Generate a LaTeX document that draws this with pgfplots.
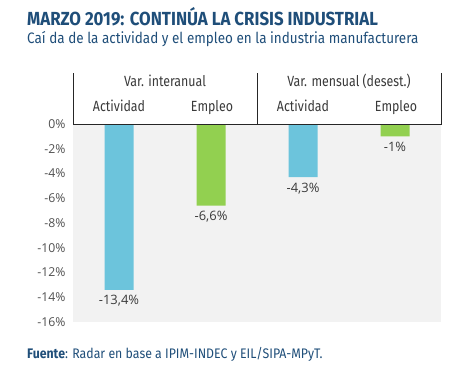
\documentclass[border=0pt]{standalone}
\usepackage{pgfplots}
\pgfplotsset{compat=1.18}
\usepackage{fontspec}
\setmainfont{Open Sans}
\newfontfamily\condfont[FakeStretch=0.89]{Fira Sans}
\newfontfamily\hdrfont[FakeStretch=0.84]{Fira Sans}
\definecolor{tblue}{HTML}{1F4E79}
\definecolor{barblue}{HTML}{6CC4DC}
\definecolor{bargreen}{HTML}{92D050}
\definecolor{txt}{HTML}{3A3A3A}
\definecolor{ticktxt}{HTML}{505050}
\definecolor{bggray}{HTML}{F2F2F2}
\begin{document}
\begin{tikzpicture}
\path[use as bounding box] (0,0) rectangle (466bp,-372bp);
\begin{axis}[
  at={(73bp,-322bp)}, anchor=south west,
  scale only axis, width=368bp, height=198bp,
  xmin=-0.5, xmax=3.5, ymin=-16, ymax=0,
  ytick={-16,-14,-12,-10,-8,-6,-4,-2,0},
  yticklabels={-16\%,-14\%,-12\%,-10\%,-8\%,-6\%,-4\%,-2\%,0\%},
  yticklabel style={font=\fontsize{12.3}{14}\selectfont, text=ticktxt, xshift=-4bp},
  xtick=\empty,
  axis line style={draw=none},
  major tick length=0pt,
  axis background/.style={fill=bggray},
  ybar, bar width=29bp, bar shift=0pt,
  nodes near coords, point meta=explicit symbolic,
  every node near coord/.append style={font=\fontsize{13}{14}\selectfont, text=txt, anchor=north, yshift=-2bp},
  clip=false,
]
\addplot[fill=barblue, draw=none] coordinates {(0,-13.4) [{-13,4\%}] (2,-4.3) [{-4,3\%}]};
\addplot[fill=bargreen, draw=none] coordinates {(1,-6.6) [{-6,6\%}] (3,-1) [{-1\%}]};
\end{axis}
\draw[black!85, line width=0.7bp] (73bp,-73bp) -- (73bp,-124bp) -- (441bp,-124bp) -- (441bp,-73bp);
\draw[black!85, line width=0.7bp] (257bp,-73bp) -- (257bp,-124bp);
\begin{scope}[every node/.style={text=txt, font=\hdrfont\fontsize{14.8}{16}\selectfont, inner sep=0pt}]
\node[anchor=base] at (165bp,-86bp) {Var. interanual};
\node[anchor=base] at (349bp,-86bp) {Var. mensual (desest.)};
\node[anchor=base] at (119bp,-111bp) {Actividad};
\node[anchor=base] at (212bp,-111bp) {Empleo};
\node[anchor=base] at (303bp,-111bp) {Actividad};
\node[anchor=base] at (396bp,-111bp) {Empleo};
\end{scope}
\node[anchor=base west, inner sep=0pt, text=tblue, font=\condfont\bfseries\fontsize{19}{22}\selectfont] at (27bp,-25bp) {MARZO 2019: CONTINÚA LA CRISIS INDUSTRIAL};
\node[anchor=base west, inner sep=0pt, text=tblue, font=\condfont\fontsize{15.2}{18}\selectfont] at (27bp,-43bp) {Caí da de la actividad y el empleo en la industria manufacturera};
\node[anchor=base west, inner sep=0pt, text=tblue, font=\condfont\fontsize{13.9}{16}\selectfont] at (27bp,-358bp) {\textbf{Fuente}: Radar en base a IPIM-INDEC y EIL/SIPA-MPyT.};
\end{tikzpicture}
\end{document}
